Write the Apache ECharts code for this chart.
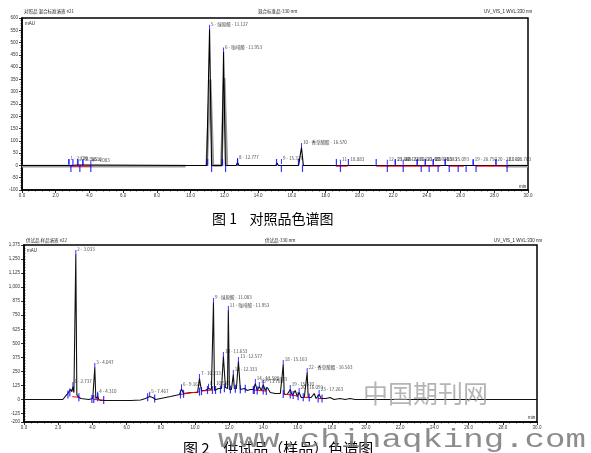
<!DOCTYPE html>
<html><head><meta charset="utf-8">
<script src="https://cdn.jsdelivr.net/npm/echarts@6/dist/echarts.min.js"></script>
<style>html,body{margin:0;padding:0;background:#fff}#c{width:591px;height:453px}</style>
</head><body><div id="c"></div>
<script>
// ---------- Figure 1 : reference standard ----------
const ref1Black = [
 [0,0],[2.70,0],[2.76,6],[2.82,0],[2.92,3],[2.98,0],[3.30,2],[3.36,0],[3.60,2],[3.66,0],[9.70,0],
 [10.95,0],[11.12,554],[11.24,0],[11.85,0],[11.95,462],[12.06,0],[12.70,0],[12.78,12],[12.86,0],
 [15.05,0],[15.12,10],[15.20,0],[15.35,0],[15.40,6],[15.46,0],[16.40,0],[16.57,73],[16.68,0],
 [18.70,0],[18.78,4],[18.86,0],[21.60,0],[21.68,5],[21.76,0],[22.30,0],[22.40,4],[22.50,0],
 [24.60,0],[24.70,5],[24.80,0],[26.60,0],[26.70,4],[26.80,0],[30,0]
];
const ref1Grey = [
 [0,-3],[9.70,-3],[9.70,'-'],[10.95,0],[11.16,350],[11.32,0],[11.82,0],[11.99,356],[12.15,0],[12.15,'-'],[28.7,-3],[30,-3]
];
const ref1Baselines = [
 [[2.85,-3],[4.10,-3]],[[18.6,-3],[19.3,-3]],[[21.0,-3],[24.8,-3]],[[25.3,-3],[26.2,-3]],[[26.9,-3],[28.8,-3]]
];
const ref1MarksUp = [2.78,3.02,3.31,3.61,11.01,11.89,12.78,15.09,16.39,18.64,19.35,21.0,22.13,23.43,23.91,24.38,25.09,26.75,28.1];
const ref1MarksDown = [2.90,3.43,4.08,11.24,12.07,15.38,16.63,18.88,21.66,22.60,23.67,24.14,24.67,25.33,25.86,26.33,26.92,28.76];
const ref1Labels = [
 [2.78,8,"1 - 2.780"],[3.31,4,"2 - 3.313"],[3.61,4,"3 - 3.610"],[4.08,2,"4 - 4.083"],
 [11.12,554,"5 - 绿原酸 - 11.127"],[11.95,462,"6 - 咖啡酸 - 11.953"],[12.78,12,"8 - 12.777"],
 [15.38,8,"9 - 15.377"],[16.57,73,"10 - 香草酸酯 - 16.570"],[18.88,5,"11 - 18.883"],
 [21.66,5,"12 - 21.663"],[22.13,5,"13 - 22.133"],[22.60,5,"14 - 22.603"],[23.43,5,"15 - 23.433"],
 [23.91,5,"16 - 23.913"],[24.38,5,"17 - 24.383"],[25.09,5,"18 - 25.093"],[26.75,5,"19 - 26.750"],
 [28.10,5,"20 - 28.100"],[28.76,5,"21 - 28.763"]
];
const yTicks1 = {min:-100, max:600, step:50};

// ---------- Figure 2 : sample ----------
const smp2Black = [
 [0,0],[2.27,0],[2.51,45],[2.62,62],[2.74,90],[2.80,70],[2.86,115],[2.92,62],[2.97,62],[3.03,1290],[3.09,45],
 [3.15,27],[3.32,9],[3.79,0],[4.02,9],[4.14,285],[4.20,9],[4.31,27],[4.37,0],[4.49,-9],[6.24,-9],[6.82,-4],
 [7.11,9],[7.35,27],[7.52,18],[7.70,0],[7.99,9],[8.57,27],[9.10,45],[9.21,95],[9.33,53],[9.74,62],
 [10.15,62],[10.26,187],[10.38,80],[10.61,80],[10.79,98],[10.96,89],[11.08,863],[11.14,80],[11.25,89],
 [11.37,98],[11.55,98],[11.66,383],[11.78,107],[11.90,98],[11.95,792],[12.01,89],[12.13,89],[12.24,222],
 [12.30,98],[12.42,98],[12.54,338],[12.65,89],[12.89,98],[13.06,80],[13.24,89],[13.41,89],[13.53,142],
 [13.64,80],[13.76,116],[13.88,80],[13.99,133],[14.11,80],[14.23,107],[14.40,62],[14.69,53],[14.99,53],
 [15.10,53],[15.16,311],[15.22,45],[15.39,45],[15.57,89],[15.69,36],[15.86,80],[15.98,27],[16.09,62],
 [16.21,18],[16.39,18],[16.50,18],[16.56,240],[16.62,18],[16.79,18],[16.97,53],[17.08,9],[17.26,45],
 [17.38,9],[17.67,9],[17.90,18],[18.13,0],[18.48,9],[18.78,0],[19.07,9],[19.36,0],[30,0]
];
const smp2Baselines = [
 [[2.82,25],[3.21,20]],[[4.08,0],[4.66,-5]],[[9.15,45],[10.26,70]],[[10.38,75],[11.02,85]],
 [[13.41,85],[14.17,75]],[[15.16,50],[16.03,30]],[[16.33,20],[16.68,18]],[[17.2,10],[17.43,8]]
];
const smp2Marks = [
 [2.57,45],[2.68,62],[3.21,20],[3.97,5],[4.08,5],[4.31,20],[4.66,-5],[7.23,20],[7.64,10],[9.15,45],
 [9.33,50],[10.26,70],[10.38,75],[10.73,85],[11.02,85],[11.20,85],[11.49,90],[11.72,100],[12.07,90],
 [12.36,95],[12.65,90],[12.94,95],[13.41,85],[13.47,85],[13.64,80],[13.99,80],[14.17,75],[15.16,50],
 [15.57,45],[15.74,40],[16.03,30],[16.33,20],[16.68,18],[17.20,10],[17.43,8]
];
const smp2Labels = [
 [2.86,115,"1 - 2.737"],[3.03,1290,"2 - 3.033"],[4.14,285,"3 - 4.047"],[4.31,30,"4 - 4.310"],
 [7.35,30,"5 - 7.467"],[9.21,95,"6 - 9.163"],[10.26,187,"7 - 10.233"],[10.79,100,"8 - 10.563"],
 [11.08,863,"9 - 绿原酸 - 11.083"],[11.66,383,"10 - 11.633"],[11.95,792,"11 - 咖啡酸 - 11.953"],
 [12.24,222,"12 - 12.333"],[12.54,338,"13 - 12.577"],[13.53,142,"14 - 13.523"],[13.76,116,"15 - 13.763"],
 [13.99,133,"16 - 13.993"],[15.16,311,"18 - 15.163"],[15.57,89,"19 - 15.570"],[16.09,62,"20 - 16.093"],
 [16.56,240,"22 - 香草酸酯 - 16.563"],[17.26,45,"23 - 17.263"]
];
const yTicks2 = [-200,-125,0,125,250,375,500,625,750,875,1000,1125,1250,1375];

// ---------- build ----------
const tiny = 4.5;
const FONT = 'Liberation Sans';
function segs(list){ const out=[]; list.forEach((s,i)=>{ if(i) out.push([s[0][0],'-']); s.forEach(p=>out.push(p)); }); return out; }
function xAx(g){ return {gridIndex:g,type:'value',min:0,max:30,interval:2,
  axisLine:{show:true,onZero:false,lineStyle:{color:'#000',width:1.5}},
  axisTick:{show:true,inside:false,length:3,lineStyle:{color:'#000',width:0.8}},
  minorTick:{show:true,splitNumber:5,length:1.5,lineStyle:{color:'#000',width:0.6}},
  axisLabel:{fontSize:tiny,color:'#333',margin:3,fontFamily:FONT,formatter:v=>v.toFixed(1)},
  splitLine:{show:false}}; }
const labelSeries = (arr,xi,yi)=>({type:'scatter',xAxisIndex:xi,yAxisIndex:yi,symbol:'rect',symbolSize:[1,5],
  symbolOffset:[0,-2],itemStyle:{color:'#0000ff'},z:5,
  data:arr.map(d=>({value:[d[0],d[1]],label:{formatter:d[2]}})),
  label:{show:true,position:'right',distance:1,offset:[0,-3],fontSize:tiny,color:'#111',fontFamily:'Noto Sans CJK SC'}});

const chart = echarts.init(document.getElementById('c'),null,{renderer:'canvas'});
const option = {
 animation:false,
 backgroundColor:'#fff',
 grid:[
  {left:22,top:18,width:506,height:172,show:true,borderColor:'#000',borderWidth:1.5,backgroundColor:'transparent'},
  {left:24,top:245,width:513,height:177,show:true,borderColor:'#000',borderWidth:1.5,backgroundColor:'transparent'}
 ],
 xAxis:[xAx(0),xAx(1)],
 yAxis:[
  {gridIndex:0,type:'value',min:yTicks1.min,max:yTicks1.max,interval:yTicks1.step,
   axisLine:{show:true,onZero:false,lineStyle:{color:'#000',width:1.5}},
   axisTick:{show:true,length:3,lineStyle:{color:'#000',width:0.8}},
   minorTick:{show:true,splitNumber:5,length:1.5,lineStyle:{color:'#000',width:0.6}},
   axisLabel:{fontSize:tiny,color:'#333',margin:4,fontFamily:FONT},splitLine:{show:false}},
  {gridIndex:1,type:'value',min:-200,max:1375,
   axisLine:{show:true,onZero:false,lineStyle:{color:'#000',width:1.5}},
   axisTick:{show:true,length:3,customValues:yTicks2,lineStyle:{color:'#000',width:0.8}},
   axisLabel:{fontSize:tiny,color:'#333',margin:4,fontFamily:FONT,customValues:yTicks2,
     formatter:v=>v.toLocaleString('en-US')},splitLine:{show:false}},
  {gridIndex:1,type:'value',min:-200,max:1375,interval:25,
   axisLine:{show:false},axisLabel:{show:false},splitLine:{show:false},
   axisTick:{show:true,length:1.5,lineStyle:{color:'#000',width:0.6}}}
 ],
 series:[
  {type:'line',xAxisIndex:0,yAxisIndex:0,data:ref1Grey,showSymbol:false,connectNulls:false,
   lineStyle:{color:'#9a9a9a',width:2.6},z:1},
  {type:'line',xAxisIndex:0,yAxisIndex:0,data:ref1Black,showSymbol:false,
   lineStyle:{color:'#000',width:1.1},z:2},
  {type:'line',xAxisIndex:0,yAxisIndex:0,data:segs(ref1Baselines),showSymbol:false,connectNulls:false,
   lineStyle:{color:'#ff0000',width:1},z:3},
  {type:'scatter',xAxisIndex:0,yAxisIndex:0,data:ref1MarksUp.map(t=>[t,0]),symbol:'rect',symbolSize:[1.2,7],
   symbolOffset:[0,-3],itemStyle:{color:'#0000ff'},z:4},
  {type:'scatter',xAxisIndex:0,yAxisIndex:0,data:ref1MarksDown.map(t=>[t,0]),symbol:'rect',symbolSize:[1.2,7],
   symbolOffset:[0,3],itemStyle:{color:'#0000ff'},z:4},
  labelSeries(ref1Labels,0,0),
  {type:'line',xAxisIndex:1,yAxisIndex:1,data:smp2Black,showSymbol:false,
   lineStyle:{color:'#111',width:1.1},z:2},
  {type:'line',xAxisIndex:1,yAxisIndex:1,data:segs(smp2Baselines),showSymbol:false,connectNulls:false,
   lineStyle:{color:'#ff0000',width:1},z:3},
  {type:'scatter',xAxisIndex:1,yAxisIndex:1,data:smp2Marks,symbol:'rect',symbolSize:[1.2,8],
   itemStyle:{color:'#0000ff'},z:4},
  labelSeries(smp2Labels,1,1)
 ],
 graphic:[
  {type:'text',left:24,top:9,style:{text:'对照品 混合标准溶液 #21',fill:'#222',font:'4.5px "Noto Sans CJK SC"'}},
  {type:'text',left:258,top:9,style:{text:'混合标准品-330 nm',fill:'#222',font:'4.5px "Noto Sans CJK SC"'}},
  {type:'text',left:484,top:9,style:{text:'UV_VIS_1 WVL:330 nm',fill:'#222',font:'4.5px "Liberation Sans"'}},
  {type:'text',left:25,top:21,style:{text:'mAU',fill:'#222',font:'4.5px "Liberation Sans"'}},
  {type:'text',left:519,top:184,style:{text:'min',fill:'#222',font:'4.5px "Liberation Sans"'}},
  {type:'text',left:26,top:238,style:{text:'供试品 样品溶液 #22',fill:'#222',font:'4.5px "Noto Sans CJK SC"'}},
  {type:'text',left:265,top:238,style:{text:'供试品-330 nm',fill:'#222',font:'4.5px "Noto Sans CJK SC"'}},
  {type:'text',left:494,top:238,style:{text:'UV_VIS_1 WVL:330 nm',fill:'#222',font:'4.5px "Liberation Sans"'}},
  {type:'text',left:27,top:248,style:{text:'mAU',fill:'#222',font:'4.5px "Liberation Sans"'}},
  {type:'text',left:528,top:415,style:{text:'min',fill:'#222',font:'4.5px "Liberation Sans"'}},
  {type:'text',left:212,top:212,style:{text:'图 1    对照品色谱图',fill:'#000',font:'14px "Noto Sans CJK SC"'}},
  {type:'text',left:183,top:441,style:{text:'图 2    供试品（样品）色谱图',fill:'#000',font:'15px "Noto Sans CJK SC"'}},
  {type:'text',left:363,top:381,z:100,style:{text:'中国期刊网',fill:'rgba(150,150,150,0.7)',font:'25px "Noto Sans CJK SC"'}},
  {type:'text',x:218,y:427,z:100,scaleX:1.31,style:{text:'www.chinaqking.com',fill:'rgba(120,120,120,0.85)',font:'26px "Liberation Mono"'}}
 ]
};
chart.setOption(option);
</script></body></html>
